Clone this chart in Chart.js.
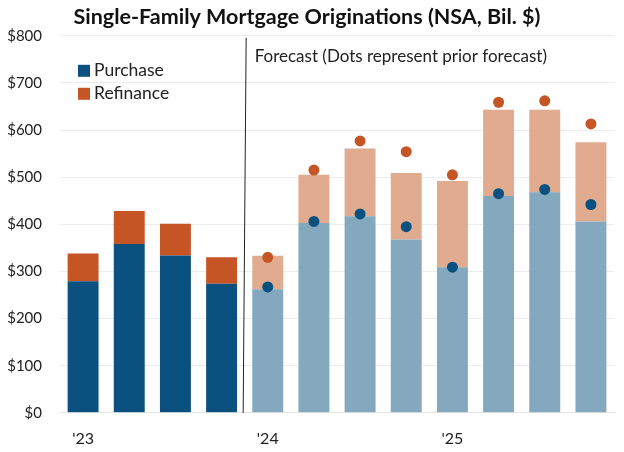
<!DOCTYPE html>
<html>
<head>
<meta charset="utf-8">
<script src="https://cdn.jsdelivr.net/npm/chart.js@4"></script>
<style>
  html, body { margin: 0; padding: 0; background: #fff; }
  #wrap { width: 624px; height: 452px; }
</style>
</head>
<body>
<div id="wrap"><canvas id="origChart"></canvas></div>
<script>
// Setup
const quarters = ["'23", "", "", "", "'24", "", "", "", "'25", "", "", ""];
const purchase = [279, 358, 334, 274, 262, 403, 417, 368, 309, 460, 468, 406];
const refinance = [59, 70, 67, 56, 71, 102, 144, 141, 183, 183, 175, 168];
const priorPurchase = [null, null, null, null, 267, 406, 422, 395, 309, 465, 474, 442];
const priorTotal = [null, null, null, null, 330, 515, 577, 554, 505, 659, 662, 613];
const firstForecast = 4;

const FONT = "Lato, 'Source Sans Pro', sans-serif";
const purchaseColors = purchase.map((v, i) => (i < firstForecast ? "#0b5180" : "#84a8bd"));
const refiColors = refinance.map((v, i) => (i < firstForecast ? "#c65526" : "#e0ab8f"));

// plugin: forecast divider, note and legend
const extras = {
  id: "extras",
  afterDatasetsDraw(chart) {
    const ctx = chart.ctx;
    const x = chart.scales.x;
    const area = chart.chartArea;
    const divX = (x.getPixelForValue(firstForecast - 1) + x.getPixelForValue(firstForecast)) / 2;
    ctx.save();
    ctx.strokeStyle = "#222";
    ctx.lineWidth = 1;
    ctx.beginPath();
    ctx.moveTo(divX + 1.5, area.top + 2);
    ctx.lineTo(divX - 1.5, area.bottom);
    ctx.stroke();

    ctx.fillStyle = "#222";
    ctx.font = "17px " + FONT;
    ctx.textBaseline = "middle";
    ctx.textAlign = "left";
    ctx.fillText("Forecast (Dots represent prior forecast)", divX + 10, area.top + 21);

    // legend
    ctx.font = "17.5px " + FONT;
    const items = [["Purchase", "#0b5180"], ["Refinance", "#c65526"]];
    items.forEach((it, i) => {
      const ly = area.top + 35 + i * 23;
      ctx.fillStyle = it[1];
      ctx.fillRect(area.left + 18, ly - 6, 12, 12);
      ctx.fillStyle = "#222";
      ctx.fillText(it[0], area.left + 34, ly);
    });
    ctx.restore();
  },
};

const origData = {
  labels: quarters,
  datasets: [
    {
      type: "line",
      label: "Prior total",
      data: priorTotal,
      showLine: false,
      pointRadius: 5.5,
      pointHoverRadius: 5.5,
      pointBackgroundColor: "#c65526",
      pointBorderWidth: 0,
      stack: "dots1",
      order: 0,
    },
    {
      type: "line",
      label: "Prior purchase",
      data: priorPurchase,
      showLine: false,
      pointRadius: 5.5,
      pointHoverRadius: 5.5,
      pointBackgroundColor: "#0b5180",
      pointBorderWidth: 0,
      stack: "dots2",
      order: 0,
    },
    {
      label: "Purchase",
      data: purchase,
      backgroundColor: purchaseColors,
      stack: "bars",
      barPercentage: 0.67,
      categoryPercentage: 1,
      order: 1,
    },
    {
      label: "Refinance",
      data: refinance,
      backgroundColor: refiColors,
      stack: "bars",
      barPercentage: 0.67,
      categoryPercentage: 1,
      order: 1,
    },
  ],
};

const origConfig = {
  type: "bar",
  data: origData,
  options: {
    responsive: true,
    maintainAspectRatio: false,
    animation: false,
    layout: { padding: { left: 0, right: 10, top: 0, bottom: -12 } },
    plugins: {
      legend: { display: false },
      tooltip: { enabled: false },
      title: {
        display: true,
        text: "Single-Family Mortgage Originations (NSA, Bil. $)",
        color: "#111",
        font: { family: FONT, size: 21.5, weight: "bold" },
        padding: { top: 4, bottom: 6 },
      },
    },
    scales: {
      x: {
        stacked: true,
        grid: { display: false, drawTicks: false },
        border: { color: "#e6e6e6" },
        ticks: {
          color: "#222",
          font: { family: FONT, size: 16 },
          maxRotation: 0,
          autoSkip: false,
          padding: 16,
        },
      },
      y: {
        stacked: true,
        min: 0,
        max: 800,
        afterFit: (scale) => { scale.width = 60; },
        grid: { color: "#ececec", drawTicks: false },
        border: { display: false },
        ticks: {
          stepSize: 100,
          color: "#222",
          font: { family: FONT, size: 15 },
          padding: 18,
          callback: (v) => "$" + v,
        },
      },
    },
  },
  plugins: [extras],
};

const origChart = new Chart(document.getElementById("origChart"), origConfig);
</script>
</body>
</html>
